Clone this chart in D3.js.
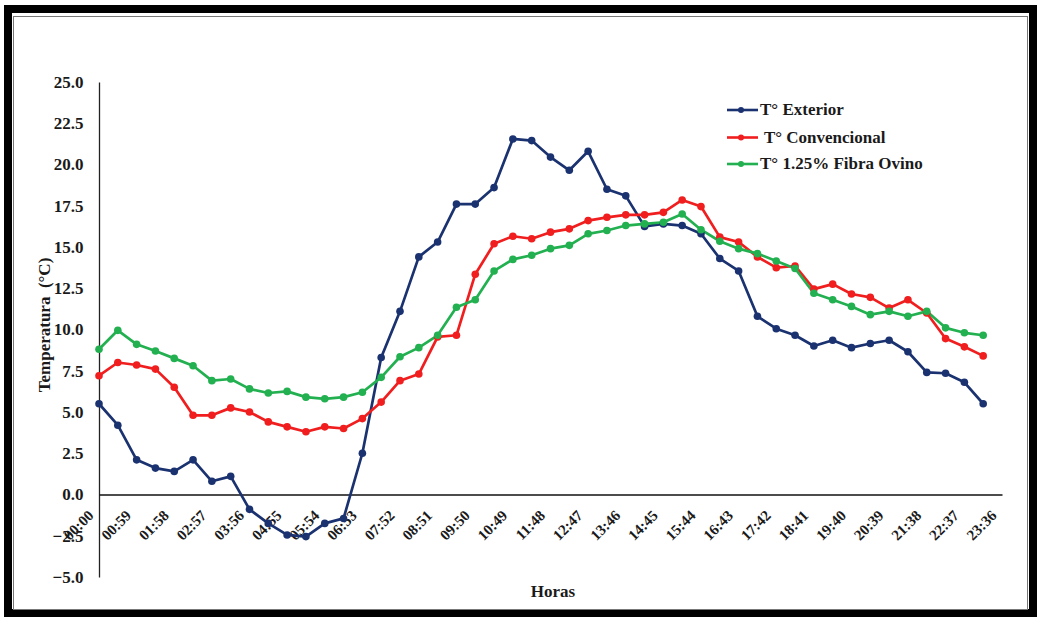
<!DOCTYPE html>
<html>
<head>
<meta charset="utf-8">
<script src="https://cdn.jsdelivr.net/npm/d3@7"></script>
<style>
  html, body { margin: 0; padding: 0; background: #fff; }
  svg { display: block; }
  text { font-family: "Liberation Serif", "Times New Roman", serif; font-weight: bold; fill: #1a1a1a; }
</style>
</head>
<body>
<svg id="chart" width="1039" height="619"></svg>
<script>
// ---- data ----
const categories = [
  "00:00","00:29","00:59","01:28","01:58","02:27","02:57","03:26","03:56","04:25",
  "04:55","05:24","05:54","06:23","06:53","07:22","07:52","08:21","08:51","09:20",
  "09:50","10:19","10:49","11:18","11:48","12:17","12:47","13:16","13:46","14:15",
  "14:45","15:14","15:44","16:13","16:43","17:12","17:42","18:11","18:41","19:10",
  "19:40","20:09","20:39","21:08","21:38","22:07","22:37","23:06","23:36"
];
const tickLabels = [
  "00:00","00:59","01:58","02:57","03:56","04:55","05:54","06:53","07:52","08:51",
  "09:50","10:49","11:48","12:47","13:46","14:45","15:44","16:43","17:42","18:41",
  "19:40","20:39","21:38","22:37","23:36"
];
const yTicks = [-5, -2.5, 0, 2.5, 5, 7.5, 10, 12.5, 15, 17.5, 20, 22.5, 25];

const seriesNames = ["T\u00B0 Exterior", " T\u00B0 Convencional", "T\u00B0 1.25% Fibra Ovino"];
const exterior = [
  5.5, 4.2, 2.1, 1.6, 1.4, 2.1, 0.8, 1.1, -0.9, -1.75,
  -2.45, -2.55, -1.75, -1.45, 2.5, 8.3, 11.1, 14.4, 15.3, 17.6,
  17.6, 18.6, 21.55, 21.45, 20.45, 19.65, 20.8, 18.5, 18.1, 16.25,
  16.4, 16.3, 15.8, 14.3, 13.55, 10.8, 10.05, 9.65, 9.0, 9.35,
  8.9, 9.15, 9.35, 8.65, 7.4, 7.35, 6.8, 5.5
];
const convencional = [
  7.2, 8.0, 7.85, 7.6, 6.5, 4.8, 4.8, 5.25, 5.0, 4.4,
  4.1, 3.8, 4.1, 4.0, 4.6, 5.6, 6.9, 7.3, 9.55, 9.65,
  13.35, 15.2, 15.65, 15.5, 15.9, 16.1, 16.6, 16.8, 16.95, 16.95,
  17.1, 17.85, 17.45, 15.6, 15.3, 14.4, 13.75, 13.85, 12.45, 12.75,
  12.15, 11.95, 11.3, 11.8, 11.0, 9.45, 8.95, 8.4
];
const fibra = [
  8.8, 9.95, 9.1, 8.7, 8.25, 7.8, 6.9, 7.0, 6.4, 6.15,
  6.25, 5.9, 5.8, 5.9, 6.2, 7.1, 8.35, 8.9, 9.65, 11.35,
  11.8, 13.55, 14.25, 14.5, 14.9, 15.1, 15.8, 16.0, 16.3, 16.4,
  16.5, 17.0, 16.05, 15.35, 14.9, 14.6, 14.15, 13.7, 12.2, 11.8,
  11.4, 10.9, 11.1, 10.8, 11.1, 10.1, 9.8, 9.65
];
const colors = ["#1b3270", "#f01e1e", "#22b050"];

// ---- drawing ----
const svg = d3.select("#chart");
const FONT = "Liberation Serif";

// outer frame
svg.append("rect").attr("x", 0).attr("y", 0).attr("width", 1039).attr("height", 619).attr("fill", "#fff");
svg.append("rect").attr("x", 8).attr("y", 9).attr("width", 1025).attr("height", 604)
  .attr("fill", "none").attr("stroke", "#000").attr("stroke-width", 8);
svg.append("rect").attr("x", 13.5).attr("y", 16.5).attr("width", 1014).attr("height", 593)
  .attr("fill", "#fff").attr("stroke", "#777").attr("stroke-width", 1);

const x = d3.scalePoint().domain(categories).range([99, 1002]);
const y = d3.scaleLinear().domain([-5, 25]).range([577, 82]);

// y axis
const yAxis = d3.axisLeft(y).tickValues(yTicks).tickSize(0).tickPadding(15.5)
  .tickFormat(d3.format(".1f"));
const gy = svg.append("g").attr("transform", "translate(99,0)").call(yAxis);
gy.attr("font-family", FONT);
gy.select(".domain").attr("stroke", "#222").attr("stroke-width", 1.3);
gy.selectAll("text").style("font-size", "17px").style("font-family", FONT).style("font-weight", "bold").attr("fill", "#1a1a1a");

// x axis at y = 0
const evenCats = categories.filter((d, i) => i % 2 === 0);
const xAxis = d3.axisBottom(x).tickValues(evenCats).tickSize(0)
  .tickFormat((d, i) => tickLabels[i]);
const gx = svg.append("g").attr("transform", `translate(0,${y(0)})`).call(xAxis);
gx.attr("font-family", FONT);
gx.select(".domain").attr("stroke", "#111").attr("stroke-width", 1.6);
gx.selectAll("text")
  .style("font-size", "15px").style("font-family", FONT).style("font-weight", "bold")
  .attr("fill", "#1a1a1a")
  .attr("text-anchor", "end")
  .attr("dy", null)
  .attr("y", 0)
  .attr("transform", "translate(-5,22) rotate(-45)");

// series
const series = [exterior, convencional, fibra];
const line = d3.line().x((d, i) => x(categories[i])).y(d => y(d));
series.forEach((vals, k) => {
  svg.append("path").datum(vals)
    .attr("fill", "none").attr("stroke", colors[k]).attr("stroke-width", 2.7)
    .attr("stroke-linejoin", "round").attr("d", line);
});
series.forEach((vals, k) => {
  svg.append("g").selectAll("circle").data(vals).join("circle")
    .attr("cx", (d, i) => x(categories[i])).attr("cy", d => y(d))
    .attr("r", 3.8).attr("fill", colors[k]);
});

// axis titles
svg.append("text").attr("x", 553).attr("y", 597).attr("text-anchor", "middle")
  .style("font-size", "17px").text("Horas");
svg.append("text").attr("transform", "translate(50,325) rotate(-90)").attr("text-anchor", "middle")
  .attr("xml:space", "preserve").style("white-space", "pre")
  .style("font-size", "17px").text("Temperatura  (\u00B0C)");

// legend
const legendY = [110, 137.5, 164];
seriesNames.forEach((name, k) => {
  const g = svg.append("g");
  g.append("line").attr("x1", 727).attr("x2", 758).attr("y1", legendY[k]).attr("y2", legendY[k])
    .attr("stroke", colors[k]).attr("stroke-width", 2.6);
  g.append("circle").attr("cx", 741).attr("cy", legendY[k]).attr("r", 3).attr("fill", colors[k]);
  g.append("text").attr("x", 760).attr("y", legendY[k] + 5).style("font-size", "17px")
    .attr("xml:space", "preserve").style("white-space", "pre").text(name);
});
</script>
</body>
</html>
